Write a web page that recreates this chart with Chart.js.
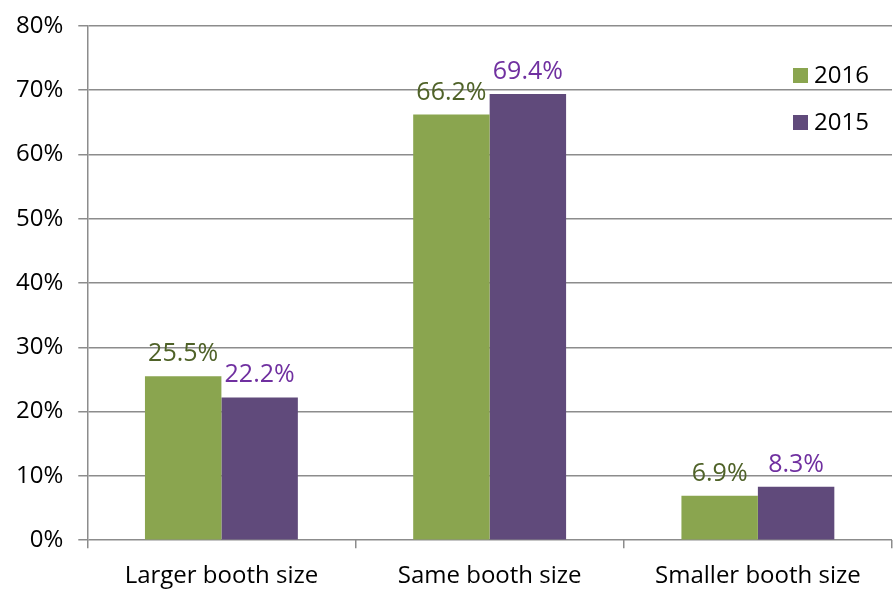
<!DOCTYPE html>
<html>
<head>
<meta charset="utf-8">
<script src="https://cdn.jsdelivr.net/npm/chart.js@4"></script>
<style>
    html, body { margin: 0; padding: 0; background: #fff; }
    #wrap { width: 894px; height: 592px; }
</style>
</head>
<body>
<div id="wrap"><canvas id="myChart"></canvas></div>
<script>
const categories = ['Larger booth size', 'Same booth size', 'Smaller booth size'];
const values2016 = [25.5, 66.2, 6.9];
const values2015 = [22.2, 69.4, 8.3];
const seriesNames = ['2016', '2015'];

const fontFamily = "'Century Gothic', 'Open Sans', sans-serif";

// value labels above each bar + legend in the top right corner
const labelPlugin = {
    id: 'labels',
    afterDatasetsDraw(chart) {
        const ctx = chart.ctx;
        ctx.save();
        ctx.font = '25px ' + fontFamily;
        ctx.textAlign = 'center';
        ctx.textBaseline = 'alphabetic';
        chart.data.datasets.forEach((ds, i) => {
            const meta = chart.getDatasetMeta(i);
            ctx.fillStyle = ds.labelColor;
            meta.data.forEach((bar, j) => {
                ctx.fillText(ds.data[j].toFixed(1) + '%', bar.x, bar.y - 15);
            });
        });

        // legend
        ctx.font = '24px ' + fontFamily;
        ctx.textAlign = 'left';
        ctx.textBaseline = 'middle';
        chart.data.datasets.forEach((ds, i) => {
            const y = 75 + i * 47;
            ctx.fillStyle = ds.backgroundColor;
            ctx.fillRect(793, y - 7, 15, 15);
            ctx.fillStyle = '#000';
            ctx.fillText(ds.label, 814, y + 1);
        });
        ctx.restore();
    }
};

new Chart(document.querySelector('#myChart'), {
    type: 'bar',
    data: {
        labels: categories,
        datasets: [
            { label: seriesNames[0], data: values2016, backgroundColor: '#8aa54f', labelColor: '#4f6228' },
            { label: seriesNames[1], data: values2015, backgroundColor: '#604a7b', labelColor: '#7030a0' },
        ]
    },
    options: {
        responsive: true,
        maintainAspectRatio: false,
        animation: false,
        layout: { padding: { top: 0, right: 2, left: 1, bottom: -13 } },
        plugins: {
            legend: { display: false },
            tooltip: { enabled: false }
        },
        datasets: {
            bar: { barPercentage: 1, categoryPercentage: 0.57 }
        },
        scales: {
            x: {
                grid: { display: true, drawOnChartArea: false, offset: true, tickLength: 8, color: '#8c8c8c', lineWidth: 1.5 },
                border: { display: false },
                ticks: { color: '#000', font: { family: fontFamily, size: 24 }, padding: 14 }
            },
            y: {
                min: 0,
                max: 80,
                grid: { color: '#8c8c8c', lineWidth: 1.5, tickLength: 9 },
                border: { color: '#8c8c8c', width: 1.5 },
                ticks: {
                    stepSize: 10,
                    color: '#000',
                    font: { family: fontFamily, size: 24, lineHeight: 0.9 },
                    padding: 15,
                    callback: v => v + '%'
                }
            }
        }
    },
    plugins: [labelPlugin]
});
</script>
</body>
</html>
